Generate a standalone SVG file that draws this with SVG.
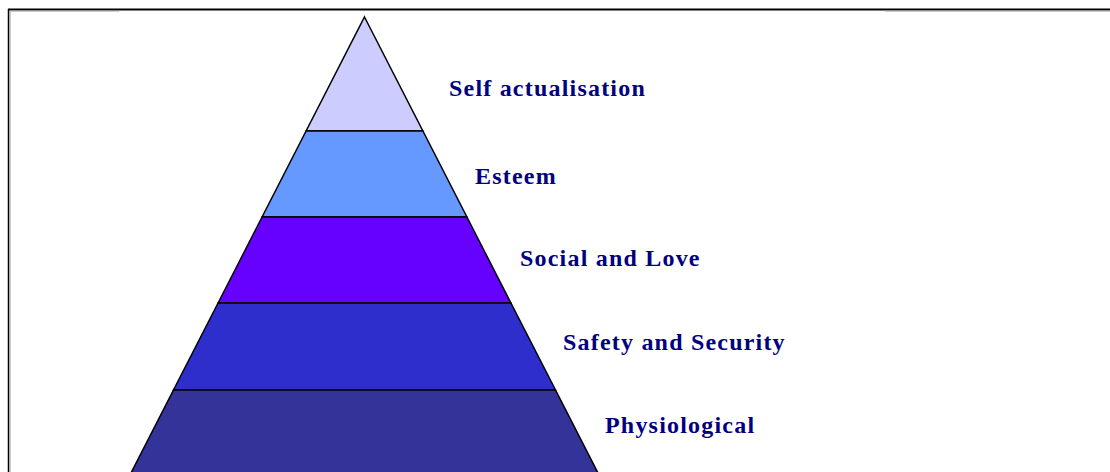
<svg xmlns="http://www.w3.org/2000/svg" width="1110" height="472" viewBox="0 0 1110 472">
<style>
.layer{stroke:#000;stroke-width:1.5;stroke-linejoin:miter}
.lbl{font-family:"Liberation Serif","Times New Roman",serif;font-weight:bold;font-size:24px;letter-spacing:1.2px;fill:#000080}
</style>
<rect x="0" y="0" width="1110" height="472" fill="#fff"/>
<g id="frame">
<line x1="8" y1="9.5" x2="1110" y2="9.5" stroke="#000" stroke-width="2"/>
<line x1="10" y1="11" x2="119" y2="11" stroke="#999" stroke-width="1"/>
<line x1="885" y1="11" x2="1110" y2="11" stroke="#999" stroke-width="1"/>
<line x1="8.5" y1="9" x2="8.5" y2="472" stroke="#000" stroke-width="1.5"/>
<line x1="10" y1="11" x2="10" y2="472" stroke="#999" stroke-width="1"/>
</g>
<g id="self-actualisation">
<polygon class="layer" fill="#CCCCFF" points="364.5,17 422.9,131 306.1,131"/>
<text class="lbl" x="449" y="96">Self actualisation</text>
</g>
<g id="esteem">
<polygon class="layer" fill="#6699FF" points="306.1,131 422.9,131 466.9,217 262.1,217"/>
<text class="lbl" x="475" y="184">Esteem</text>
</g>
<g id="social-and-love">
<polygon class="layer" fill="#6600FF" points="262.1,217 466.9,217 510.9,303 218.1,303"/>
<text class="lbl" x="520" y="266">Social and Love</text>
</g>
<g id="safety-and-security">
<polygon class="layer" fill="#2E2ECC" points="218.1,303 510.9,303 555.5,390 173.5,390"/>
<text class="lbl" x="563" y="350">Safety and Security</text>
</g>
<g id="physiological">
<polygon class="layer" fill="#333399" points="173.5,390 555.5,390 601.6,480 127.4,480"/>
<text class="lbl" x="605" y="433">Physiological</text>
</g>
<g id="connectors"></g>
</svg>
